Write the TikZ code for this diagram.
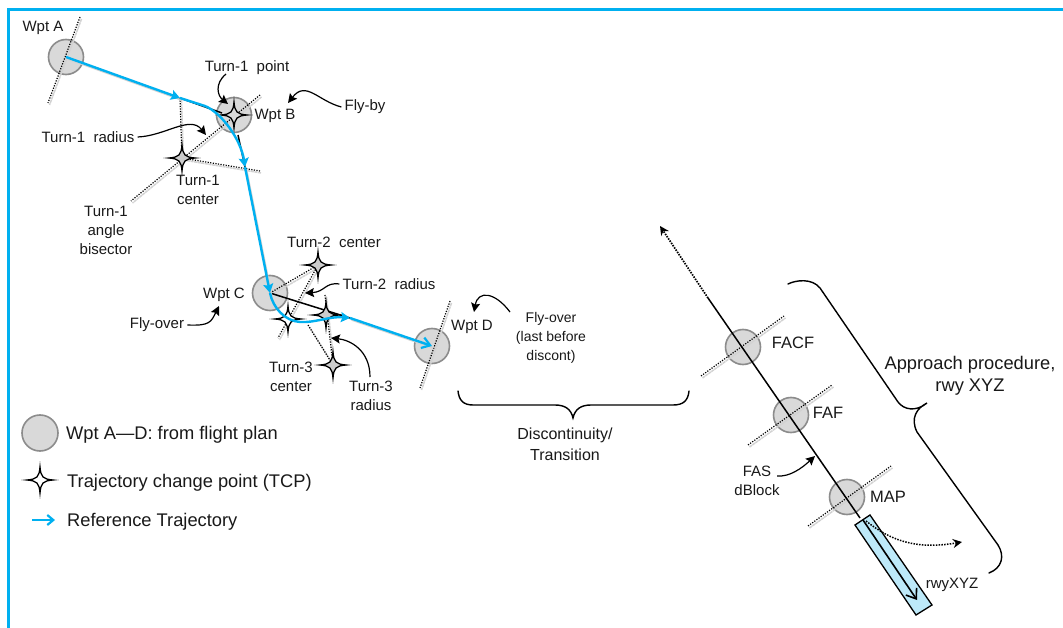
\documentclass[tikz,border=0pt]{standalone}
\usepackage{fontspec}
\setmainfont{Liberation Sans}
\usetikzlibrary{arrows.meta}
\definecolor{framecyan}{HTML}{00B0F0}
\definecolor{wptfill}{HTML}{D9D9D9}
\definecolor{wptedge}{HTML}{8C8C8C}
\definecolor{rwyfill}{HTML}{BDE9F9}
\definecolor{ghost}{HTML}{D2D2D2}
\tikzset{
  wpt/.style={circle,draw=wptedge,fill=wptfill,line width=1.6pt,minimum size=35pt,inner sep=0pt},
  lbl/.style={font=\fontsize{15}{19}\selectfont,align=center,inner sep=0pt,text=black!90,yshift=-2pt},
  lblm/.style={lbl,font=\fontsize{16.5}{19}\selectfont},
  lblb/.style={lbl,font=\fontsize{18.3}{22}\selectfont},
  lbll/.style={lblb,anchor=west,align=left},
  dotline/.style={draw=black,line width=1.2pt,dash pattern=on 1.2pt off 1.4pt},
  ghostline/.style={draw=ghost,line width=1.5pt,dash pattern=on 3pt off .6pt},
  callout/.style={draw=black,line width=1.2pt,-{Stealth[length=9pt,width=9pt,inset=1.5pt]}},
  traj/.style={draw=framecyan,line width=2.4pt},
  tip/.style={-{Stealth[length=9pt,width=10pt,inset=1.5pt]}},
  tang/.style={draw=black,line width=1.5pt},
  brace/.style={draw=black,line width=1.4pt,line cap=round},
  tcpstar/.pic={
    \draw[black,line width=1.3pt,fill=#1]
      (0,-13) .. controls (.8,-3) and (3,-.8) .. (13,0)
      .. controls (3,.8) and (.8,3) .. (0,13)
      .. controls (-.8,3) and (-3,.8) .. (-13,0)
      .. controls (-3,-.8) and (-.8,-3) .. (0,-13) -- cycle;
  }
}
\newcommand{\dotted}[2]{\draw[ghostline] ([shift={(1.5pt,-2pt)}]#1) -- ([shift={(1.5pt,-2pt)}]#2); \draw[dotline] (#1) -- (#2);}
\begin{document}
\begin{tikzpicture}[x=1pt,y=-1pt]
\useasboundingbox (0,0) rectangle (1063,628);
\fill[white] (0,0) rectangle (1063,628);
\coordinate (frameBL) at (8.5,628);
\coordinate (frameTL) at (8.5,10);
\coordinate (frameTR) at (1063,10);
\draw[framecyan,line width=3pt] (frameBL) -- (frameTL) -- (frameTR);

% waypoints
\node[wpt] (A) at (66,57) {};
\node[wpt] (B) at (234,115) {};
\node[wpt] (C) at (270,293) {};
\node[wpt] (D) at (432,346) {};
\node[wpt] (FACF) at (743,347) {};
\node[wpt] (FAF) at (791,415) {};
\node[wpt] (MAP) at (847,497) {};
\node[wpt,minimum size=36pt] (legW) at (40,433) {};

% named points
\coordinate (a1) at (80,17);   \coordinate (a2) at (48,103);
\coordinate (b1) at (260,95);  \coordinate (b2) at (131,201);
\coordinate (tp1) at (180,98); \coordinate (tp2) at (245,167);
\coordinate (tp1e) at (222,113); \coordinate (tp2s) at (238,135);
\coordinate (tp2e) at (260,171);
\coordinate (d1) at (450,301); \coordinate (d2) at (420,388);
\coordinate (f1) at (701,376); \coordinate (f2) at (784,316);
\coordinate (g1) at (748,445); \coordinate (g2) at (832,385);
\coordinate (m1) at (808,526); \coordinate (m2) at (891,466);
\coordinate (apS) at (708,298); \coordinate (apE) at (860,518);
\coordinate (apT) at (660,226);
\coordinate (s1c) at (182,158);
\coordinate (s2c) at (318,265);
\coordinate (s2a) at (288,319);
\coordinate (s3a) at (326,315);
\coordinate (s3c) at (333,365);
\coordinate (t2end) at (278,338);
\coordinate (t3top) at (325,295);
\coordinate (t3mid) at (308,325);
\coordinate (t3a) at (350,318);

% dotted construction lines
\dotted{a1}{a2}
\dotted{b1}{b2}
\dotted{tp1}{s1c}
\dotted{s1c}{tp2e}
\dotted{d1}{d2}
\dotted{f1}{f2}
\dotted{g1}{g2}
\dotted{m1}{m2}
\dotted{C.center}{s2c}
\dotted{s2c}{t2end}
\dotted{t3top}{s3c}
\dotted{t3mid}{s3c}

% tangents
\draw[tang] (tp1) -- (tp1e);
\draw[tang] (tp2s) -- (tp2);
\draw[tang] (C.center) -- (t3a);

% final approach
\draw[black,line width=1.5pt] (apS) -- (apE);
\draw[black,line width=1.7pt,dash pattern=on 1.5pt off 1.2pt,-{Stealth[length=9pt,width=9pt]}] (apS) -- (apT);

% runway
\coordinate (r1) at (855,525); \coordinate (r2) at (870,515);
\coordinate (r3) at (932,605); \coordinate (r4) at (916,615);
\draw[black,line width=1.3pt,fill=rwyfill] (r1) -- (r2) -- (r3) -- (r4) -- cycle;
\coordinate (rs) at (863,520); \coordinate (re) at (917,600);
\draw[black,line width=1.6pt,-{Straight Barb[length=9pt,width=13pt,line width=1.6pt]}] (rs) -- (re);
\coordinate (ms) at (866,521); \coordinate (me) at (962,542);
\draw[black,line width=1.5pt,dash pattern=on 1.5pt off 1.3pt,-{Stealth[length=9pt,width=9pt]}]
  (ms) .. controls (890,540) and (915,550) .. (me);

% stars
\pic at (B.center) {tcpstar=wptfill};
\pic at (s1c) {tcpstar=gray!40};
\pic at (s2c) {tcpstar=gray!40};
\pic at (s2a) {tcpstar=white};
\pic at (s3a) {tcpstar=gray!40};
\pic at (s3c) {tcpstar=gray!40};
\coordinate (legS) at (40,480);
\pic at (legS) {tcpstar=white};

% trajectory
\draw[ghostline,solid] ([shift={(1.5pt,-2pt)}]A.center) -- ([shift={(1.5pt,-2pt)}]tp1);
\draw[ghostline,solid] ([shift={(1.5pt,-2pt)}]tp2) -- ([shift={(1.5pt,-2pt)}]C.center);
\draw[ghostline,solid] ([shift={(1.5pt,-2pt)}]t3a) -- ([shift={(1.5pt,-2pt)}]D.center);
\draw[traj,tip] (A.center) -- (tp1);
\draw[traj,tip] (tp1) -- (205,106) .. controls (222,113) and (241,140) .. (tp2);
\draw[traj,tip] (tp2) -- (C.center);
\draw[traj,tip] (C.center) .. controls (273,308) and (285,321) .. (300,322)
  .. controls (315,323) and (330,316) .. (t3a);
\draw[traj,-{Straight Barb[length=8pt,width=11pt,line width=2.2pt]}] (t3a) -- (D.center);
\coordinate (legA1) at (32,520); \coordinate (legA2) at (55,520);
\draw[traj,-{Straight Barb[length=6pt,width=10pt,line width=2.2pt]}] (legA1) -- (legA2);

% labels
\node[lbl] (lA) at (43,26) {Wpt A};
\node[lbl] (lT1p) at (247,66) {Turn-1 \ point};
\node[lbl] (lB) at (275,114) {Wpt B};
\node[lbl] (lFB) at (365,105) {Fly-by};
\node[lbl] (lT1r) at (88,135) {Turn-1 \ radius};
\node[lbl] (lT1c) at (198,187.5) {Turn-1\\center};
\node[lbl] (lT1b) at (106,228.5) {Turn-1\\angle\\bisector};
\node[lbl] (lT2c) at (334,240) {Turn-2 \ center};
\node[lbl] (lT2r) at (389,282) {Turn-2 \ radius};
\node[lbl] (lC) at (224,293) {Wpt C};
\node[lbl] (lFO) at (157,323) {Fly-over};
\node[lbl] (lD) at (472,325) {Wpt D};
\node[lbl,font=\fontsize{14}{19}\selectfont] (lFOd) at (551,336) {Fly-over\\(last before\\discont)};
\node[lbl] (lT3c) at (291,374.5) {Turn-3\\center};
\node[lbl] (lT3r) at (371,393.5) {Turn-3\\radius};
\node[lblm,font=\fontsize{16}{21}\selectfont] (lDisc) at (565,442) {Discontinuity/\\Transition};
\node[lblm] (lFACF) at (793,341) {FACF};
\node[lblm] (lFAF) at (828,411) {FAF};
\node[lblm] (lMAP) at (888,495) {MAP};
\node[lbl] (lFAS) at (757,479) {FAS\\dBlock};
\node[lblb] (lApp) at (970,374) {Approach procedure,\\rwy XYZ};
\node[lbl] (lRwy) at (952,583) {rwyXYZ};
\node[lbll] (lg1) at (66,433) {Wpt A—D: from flight plan};
\node[lbll] (lg2) at (67,481) {Trajectory change point (TCP)};
\node[lbll] (lg3) at (67,520) {Reference Trajectory};

% callouts
\coordinate (c1) at (228,104);
\draw[callout] (226,74) .. controls (214,84) and (218,96) .. (c1);
\coordinate (c2) at (288,103);
\draw[callout] (lFB.west) ++(-3,0) .. controls (318,101) and (306,80) .. (c2);
\coordinate (c3) at (206,135);
\draw[callout] (lT1r.east) ++(3,0) .. controls (165,136) and (190,115) .. (c3);
\coordinate (c4) at (305,293);
\draw[callout] (lT2r.west) ++(-3,0) .. controls (325,282) and (325,292) .. (c4);
\coordinate (c5) at (219,306);
\draw[callout] (lFO.east) ++(3,0) .. controls (210,326) and (211,322) .. (c5);
\coordinate (c6) at (474,312);
\draw[callout] (510,312) .. controls (495,292) and (478,290) .. (c6);
\coordinate (c7) at (331,338);
\draw[callout] (370,377) .. controls (370,350) and (350,340) .. (c7);
\coordinate (c8) at (815,456);
\draw[callout] (777,476) .. controls (790,477) and (802,468) .. (c8);

% braces
\draw[brace] (458,391) .. controls (459,400) and (463,405) .. (473,405)
  -- (555,405) .. controls (565,405) and (571,409) .. (573,418)
  .. controls (575,409) and (581,405) .. (591,405)
  -- (673,405) .. controls (683,405) and (688,401) .. (689,391);
\draw[brace] (788,284) .. controls (796,280) and (812,278) .. (820,288)
  -- (898,402) .. controls (904,410) and (916,412) .. (927,403)
  .. controls (917,408) and (910,418) .. (917,432)
  -- (998,545) .. controls (1005,556) and (1002,568) .. (989,573);
\end{tikzpicture}
\end{document}
